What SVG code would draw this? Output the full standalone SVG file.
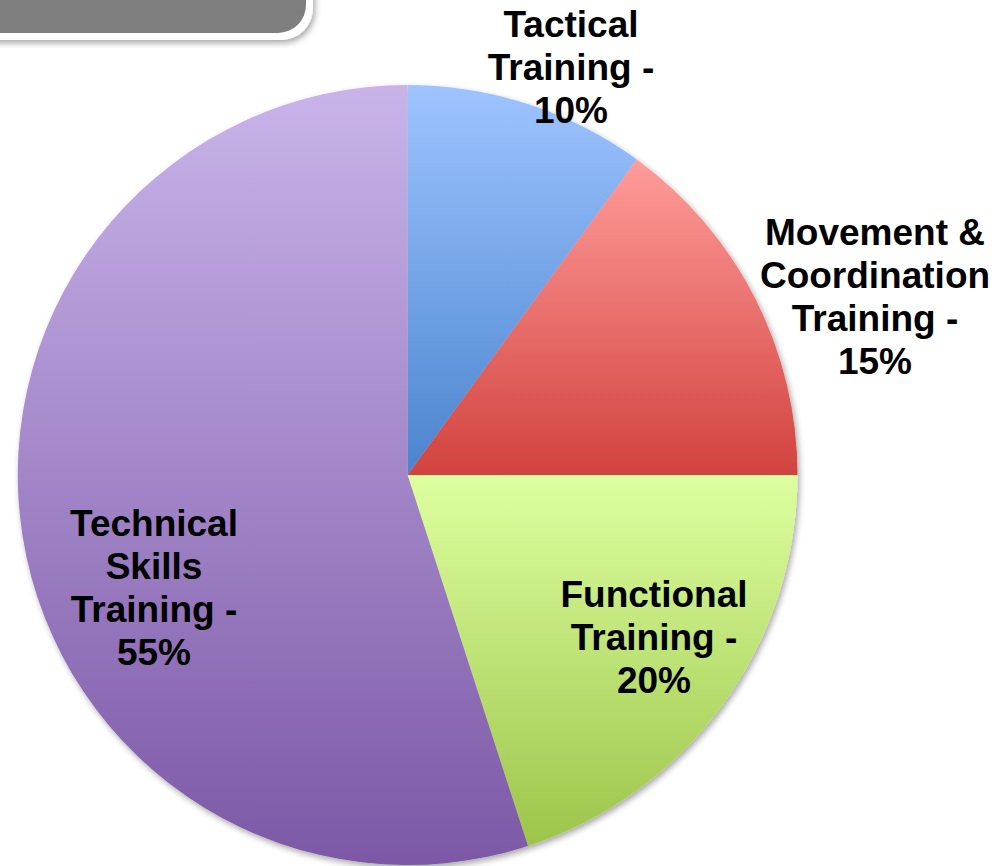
<svg xmlns="http://www.w3.org/2000/svg" width="997" height="866" viewBox="0 0 997 866">
<style>
.lbl{font-family:"Liberation Sans",Arial,sans-serif;font-weight:bold;font-size:37px;fill:#000;text-anchor:middle}
</style>
<defs>
<linearGradient id="gT" x1="0" y1="0" x2="0" y2="1"><stop offset="0" stop-color="#9EC4FF"/><stop offset="1" stop-color="#4A84CE"/></linearGradient>
<linearGradient id="gM" x1="0" y1="0" x2="0" y2="1"><stop offset="0" stop-color="#FF9C9A"/><stop offset="1" stop-color="#D2423E"/></linearGradient>
<linearGradient id="gF" x1="0" y1="0" x2="0" y2="1"><stop offset="0" stop-color="#DEFFA0"/><stop offset="1" stop-color="#9CC54A"/></linearGradient>
<linearGradient id="gS" x1="0" y1="0" x2="0" y2="1"><stop offset="0" stop-color="#C9B4EA"/><stop offset="1" stop-color="#7C58A6"/></linearGradient>
<filter id="sh" x="-10%" y="-10%" width="120%" height="120%"><feGaussianBlur in="SourceAlpha" stdDeviation="3"/><feOffset dx="2" dy="3"/><feComponentTransfer><feFuncA type="linear" slope="0.35"/></feComponentTransfer><feMerge><feMergeNode/><feMergeNode in="SourceGraphic"/></feMerge></filter>
</defs>
<rect width="997" height="866" fill="#fff"/>
<g id="titlebox" filter="url(#sh)">
<rect x="-40" y="-40" width="353" height="80" rx="32" fill="#fff"/>
<rect x="-40" y="-40" width="346" height="73" rx="28" fill="#7F7F7F"/>
</g>
<g id="pie" filter="url(#sh)">
<g id="tactical"><path d="M407.5,475 L407.5,85 A390,390 0 0 1 636.7,159.5 Z" fill="url(#gT)"/></g>
<g id="movement"><path d="M407.5,475 L636.7,159.5 A390,390 0 0 1 797.5,475 Z" fill="url(#gM)"/></g>
<g id="functional"><path d="M407.5,475 L797.5,475 A390,390 0 0 1 528,846 Z" fill="url(#gF)"/></g>
<g id="technical"><path d="M407.5,475 L528,846 A390,390 0 1 1 407.5,85 Z" fill="url(#gS)"/></g>
</g>
<g id="labels">
<text class="lbl" x="571" y="37">Tactical</text>
<text class="lbl" x="571" y="80">Training -</text>
<text class="lbl" x="571" y="123">10%</text>
<text class="lbl" x="875" y="245">Movement &amp;</text>
<text class="lbl" x="875" y="288">Coordination</text>
<text class="lbl" x="875" y="331">Training -</text>
<text class="lbl" x="875" y="374">15%</text>
<text class="lbl" x="654" y="607">Functional</text>
<text class="lbl" x="654" y="650">Training -</text>
<text class="lbl" x="654" y="693">20%</text>
<text class="lbl" x="154" y="536">Technical</text>
<text class="lbl" x="154" y="579">Skills</text>
<text class="lbl" x="154" y="622">Training -</text>
<text class="lbl" x="154" y="665">55%</text>
</g>
</svg>
